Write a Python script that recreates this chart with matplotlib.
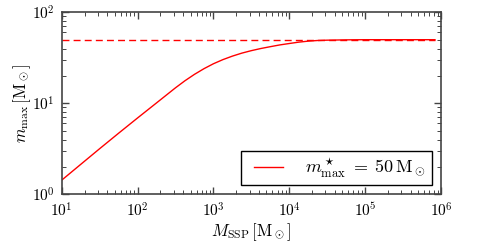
import numpy as np
import matplotlib
matplotlib.use("Agg")
import matplotlib.pyplot as plt
from matplotlib.legend_handler import HandlerLine2D

plt.rcParams.update({
    "font.family": "serif",
    "font.serif": ["cmr10", "DejaVu Serif"],
    "mathtext.fontset": "cm",
    "axes.formatter.use_mathtext": True,
    "axes.unicode_minus": False,
})

# data
log_mssp = [1.0, 1.25, 1.5, 1.75, 2.0, 2.25, 2.5, 2.625, 2.75, 2.875, 3.0,
            3.125, 3.25, 3.375, 3.5, 3.625, 3.75, 3.875, 4.0, 4.125, 4.25,
            4.375, 4.5, 4.75, 5.0, 5.5, 5.92]
m_max = [1.43, 2.13, 3.17, 4.69, 6.9, 10.1, 14.8, 17.7, 20.8, 24.0, 27.2,
         30.2, 33.0, 35.6, 37.9, 40.0, 41.9, 43.8, 45.4, 47.0, 48.2,
         49.0, 49.4, 49.8, 50.0, 50.0, 50.0]
m_star = 50.0
label = r"$m^\star_{\rm max}\;=\;50\,{\rm M}_\odot$"

mssp = [10 ** v for v in log_mssp]

fig = plt.figure(figsize=(4.91, 2.45), dpi=100)
ax = fig.add_axes([61.7 / 491, 1 - 194.3 / 245, (441 - 61.7) / 491, (194.3 - 12.3) / 245])

line, = ax.plot(mssp, m_max, color="red", lw=1.0, label=label)
ax.plot([mssp[0], mssp[-1]], [m_star, m_star], color="red", lw=1.0, ls=(0, (5, 3)))

ax.set_xscale("log")
ax.set_yscale("log")
ax.set_xlim(1e1, 1e6)
ax.set_ylim(1e0, 1e2)

gray = "#444444"
for s in ax.spines.values():
    s.set_color(gray)
    s.set_linewidth(1.2)
ax.tick_params(which="both", direction="in", top=True, right=True, color=gray,
               labelsize=11, pad=5)
ax.tick_params(which="major", length=5, width=1.0)
ax.tick_params(which="minor", length=3, width=0.7)

ax.set_xlabel(r"$M_{\rm SSP}\,[{\rm M}_\odot]$", fontsize=12, labelpad=1)
ax.set_ylabel(r"$m_{\rm max}\,[{\rm M}_\odot]$", fontsize=12, labelpad=-1)

leg = ax.legend(loc="lower right", fontsize=13, fancybox=False, frameon=True,
                borderpad=0.3, handlelength=2.05, handletextpad=1.22,
                borderaxespad=0.0, bbox_to_anchor=(0.9755, 0.051),
                handler_map={line: HandlerLine2D(xpad=0.44)})
leg.get_frame().set_edgecolor("black")
leg.get_frame().set_linewidth(1.0)
leg.get_frame().set_alpha(1)

fig.savefig("out.png", dpi=100)
